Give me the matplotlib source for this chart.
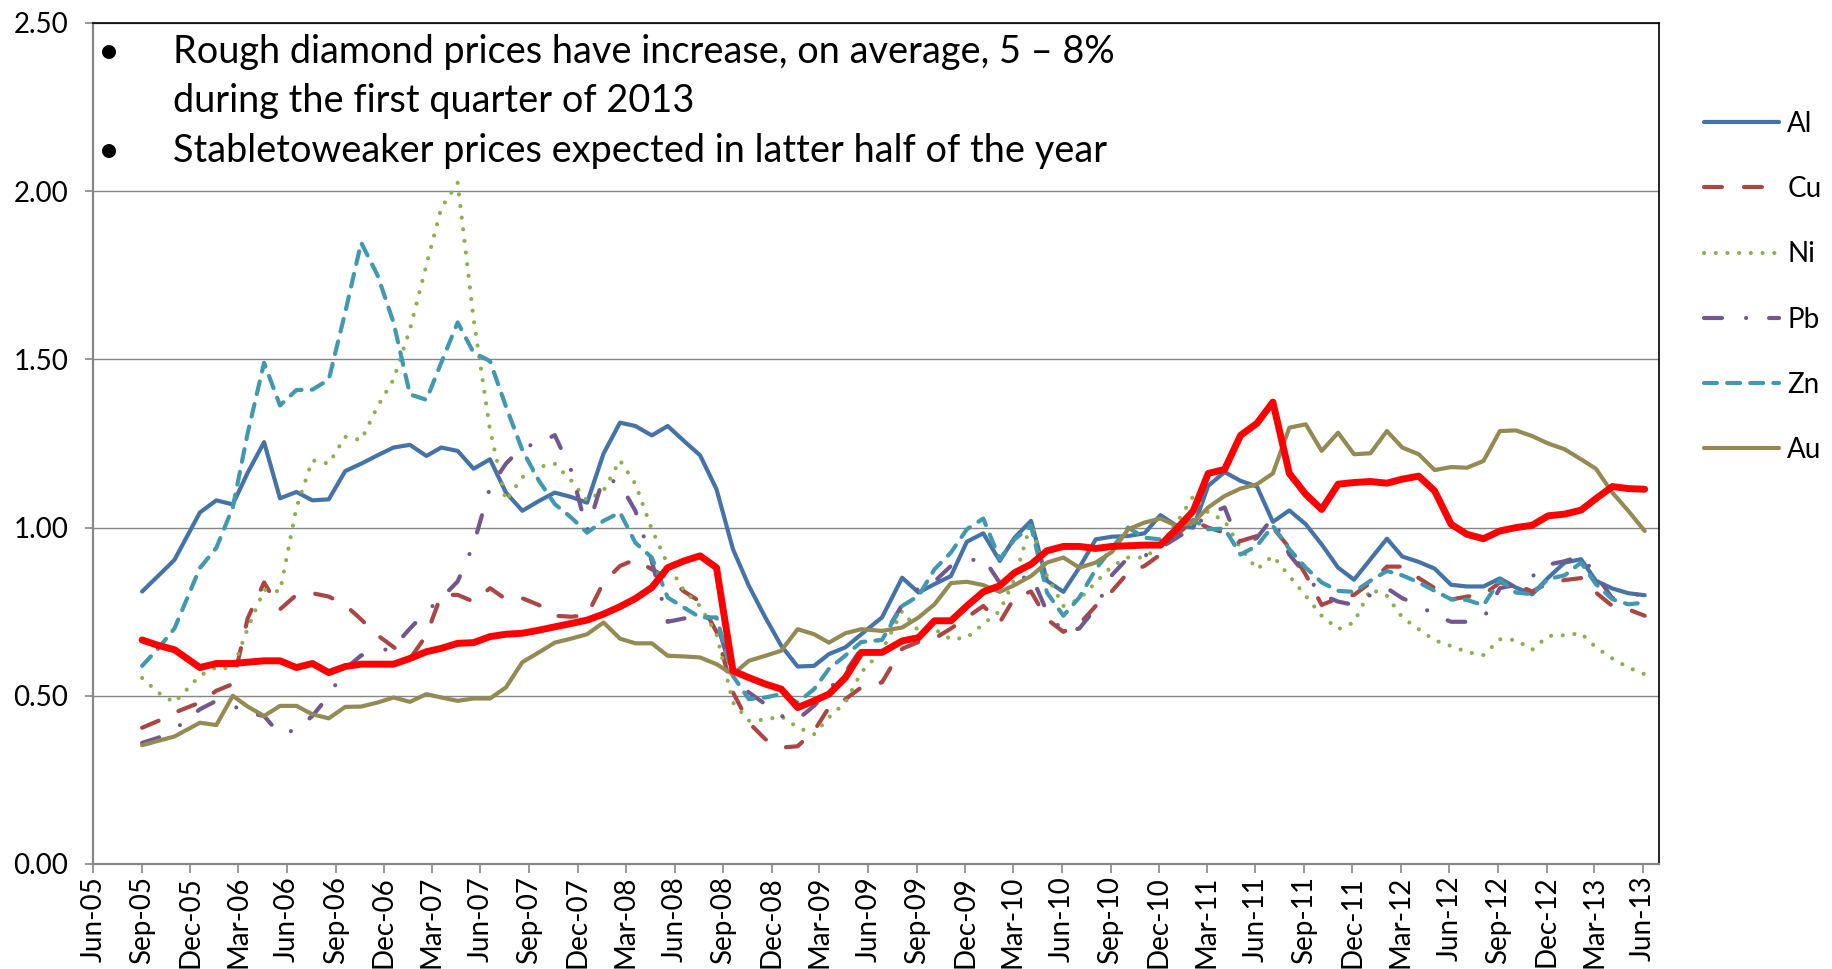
# Metal prices vs rough diamond prices (index, Dec-10 = 1.00)
import pandas as pd
import matplotlib
matplotlib.use('Agg')
import matplotlib.pyplot as plt
import matplotlib.dates as mdates
from matplotlib.ticker import MultipleLocator, FormatStrFormatter

plt.rcParams['font.family'] = ['Lato', 'DejaVu Sans']

# sample dates, Sep-05 .. May-13 (93 points, as they sit on the date axis)
dates = (list(pd.to_datetime(['2005-09-01', '2005-10-01', '2005-11-01']))
         + list(pd.date_range('2005-12-01', periods=42, freq='MS') + pd.Timedelta(days=18))
         + [pd.Timestamp('2009-06-27')]
         + list(pd.date_range('2009-08-01', periods=47, freq='MS') + pd.Timedelta(days=3)))

al = [0.81, 0.856, 0.904, 1.045, 1.081, 1.069, 1.163, 1.254, 1.087, 1.106,
      1.081, 1.084, 1.168, 1.19, 1.215, 1.238, 1.246, 1.213, 1.238, 1.228,
      1.175, 1.203, 1.104, 1.05, 1.079, 1.104, 1.091, 1.074, 1.22, 1.312,
      1.302, 1.274, 1.302, 1.257, 1.215, 1.114, 0.936, 0.827, 0.733, 0.649,
      0.587, 0.589, 0.624, 0.644, 0.683, 0.733, 0.851, 0.807, 0.832, 0.856,
      0.958, 0.983, 0.901, 0.97, 1.02, 0.842, 0.809, 0.881, 0.965, 0.973,
      0.975, 0.983, 1.037, 1.005, 1.0, 1.124, 1.165, 1.139, 1.122, 1.017,
      1.051, 1.01, 0.95, 0.881, 0.845, 0.906, 0.967, 0.914, 0.898, 0.878,
      0.83, 0.825, 0.825, 0.849, 0.822, 0.802, 0.851, 0.896, 0.906, 0.842,
      0.819, 0.805, 0.799]

cu = [0.405, 0.425, 0.45, 0.48, 0.515, 0.535, 0.73, 0.837, 0.757, 0.80,
      0.805, 0.795, 0.77, 0.727, 0.68, 0.645, 0.61, 0.68, 0.80, 0.80,
      0.78, 0.82, 0.787, 0.79, 0.77, 0.738, 0.735, 0.74, 0.837, 0.886,
      0.905, 0.876, 0.85, 0.81, 0.78, 0.69, 0.51, 0.42, 0.371, 0.346,
      0.35, 0.396, 0.465, 0.49, 0.525, 0.54, 0.64, 0.66, 0.67, 0.70,
      0.733, 0.767, 0.718, 0.792, 0.81, 0.728, 0.69, 0.713, 0.767, 0.812,
      0.866, 0.886, 0.92, 0.98, 1.02, 1.0, 0.985, 0.96, 0.975, 1.0,
      0.94, 0.86, 0.77, 0.79, 0.80, 0.836, 0.884, 0.884, 0.85, 0.82,
      0.786, 0.795, 0.80, 0.837, 0.83, 0.81, 0.835, 0.844, 0.85, 0.807,
      0.767, 0.757, 0.738]

ni = [0.553, 0.51, 0.48, 0.56, 0.585, 0.58, 0.70, 0.815, 0.81, 1.06,
      1.20, 1.19, 1.27, 1.26, 1.36, 1.44, 1.59, 1.78, 1.95, 2.025,
      1.62, 1.29, 1.08, 1.15, 1.18, 1.19, 1.14, 1.08, 1.11, 1.20,
      1.13, 0.995, 0.891, 0.812, 0.767, 0.683, 0.48, 0.426, 0.429, 0.439,
      0.406, 0.386, 0.436, 0.48, 0.57, 0.634, 0.752, 0.693, 0.698, 0.668,
      0.673, 0.713, 0.752, 0.847, 1.015, 0.856, 0.767, 0.787, 0.837, 0.886,
      0.911, 0.911, 0.946, 1.015, 1.094, 1.045, 1.02, 0.94, 0.876, 0.916,
      0.856, 0.797, 0.738, 0.698, 0.718, 0.817, 0.797, 0.733, 0.698, 0.665,
      0.648, 0.63, 0.621, 0.668, 0.666, 0.637, 0.678, 0.68, 0.686, 0.644,
      0.611, 0.584, 0.564]

pb = [0.36, 0.375, 0.40, 0.46, 0.485, 0.47, 0.45, 0.44, 0.385, 0.40,
      0.44, 0.50, 0.58, 0.62, 0.63, 0.645, 0.70, 0.75, 0.79, 0.84,
      0.95, 1.12, 1.19, 1.24, 1.25, 1.275, 1.17, 0.99, 1.15, 1.13,
      1.05, 0.90, 0.72, 0.73, 0.74, 0.72, 0.56, 0.51, 0.475, 0.44,
      0.43, 0.47, 0.52, 0.57, 0.64, 0.67, 0.77, 0.82, 0.84, 0.886,
      0.90, 0.91, 0.836, 0.84, 0.86, 0.75, 0.69, 0.70, 0.76, 0.86,
      0.91, 0.916, 0.94, 0.97, 1.0, 1.04, 1.06, 0.94, 0.97, 1.03,
      0.92, 0.86, 0.80, 0.78, 0.77, 0.80, 0.82, 0.79, 0.77, 0.74,
      0.72, 0.72, 0.73, 0.82, 0.83, 0.855, 0.89, 0.90, 0.916, 0.86,
      0.79, 0.795, 0.806]

zn = [0.589, 0.64, 0.70, 0.88, 0.94, 1.06, 1.28, 1.49, 1.363, 1.409,
      1.41, 1.44, 1.64, 1.847, 1.75, 1.61, 1.396, 1.38, 1.49, 1.61,
      1.52, 1.495, 1.36, 1.23, 1.14, 1.07, 1.03, 0.985, 1.02, 1.045,
      0.955, 0.911, 0.792, 0.762, 0.733, 0.733, 0.559, 0.49, 0.495, 0.505,
      0.48, 0.52, 0.58, 0.62, 0.66, 0.666, 0.767, 0.797, 0.876, 0.926,
      0.995, 1.027, 0.906, 0.965, 1.005, 0.807, 0.738, 0.792, 0.876, 0.94,
      1.0, 0.97, 0.965, 0.995, 1.023, 0.995, 0.997, 0.92, 0.946, 1.005,
      0.936, 0.881, 0.837, 0.812, 0.809, 0.842, 0.871, 0.858, 0.837, 0.812,
      0.787, 0.785, 0.769, 0.845, 0.807, 0.802, 0.847, 0.858, 0.896, 0.832,
      0.787, 0.772, 0.777]

au = [0.353, 0.366, 0.379, 0.42, 0.413, 0.50, 0.468, 0.44, 0.47, 0.47,
      0.445, 0.433, 0.467, 0.468, 0.48, 0.495, 0.482, 0.505, 0.495, 0.485,
      0.492, 0.492, 0.525, 0.60, 0.629, 0.658, 0.67, 0.683, 0.718, 0.67,
      0.656, 0.656, 0.619, 0.617, 0.614, 0.594, 0.564, 0.604, 0.619, 0.634,
      0.698, 0.683, 0.658, 0.686, 0.698, 0.693, 0.703, 0.733, 0.772, 0.835,
      0.839, 0.829, 0.809, 0.829, 0.856, 0.896, 0.911, 0.881, 0.896, 0.928,
      0.995, 1.015, 1.027, 1.005, 1.015, 1.06, 1.094, 1.116, 1.129, 1.161,
      1.297, 1.307, 1.228, 1.282, 1.218, 1.221, 1.287, 1.238, 1.218, 1.171,
      1.18, 1.178, 1.198, 1.287, 1.289, 1.272, 1.25, 1.233, 1.203, 1.175,
      1.104, 1.05, 0.99]

# rough diamond price index (thick red, not in legend)
diamond = [0.666, 0.65, 0.637, 0.584, 0.596, 0.596, 0.60, 0.604, 0.604, 0.584,
           0.596, 0.569, 0.587, 0.594, 0.594, 0.594, 0.611, 0.631, 0.641, 0.656,
           0.658, 0.676, 0.683, 0.686, 0.695, 0.705, 0.715, 0.725, 0.743, 0.765,
           0.789, 0.822, 0.881, 0.901, 0.916, 0.881, 0.574, 0.554, 0.535, 0.52,
           0.465, 0.485, 0.505, 0.554, 0.629, 0.629, 0.663, 0.673, 0.723, 0.723,
           0.767, 0.809, 0.827, 0.866, 0.891, 0.931, 0.944, 0.944, 0.938, 0.944,
           0.946, 0.948, 0.948, 0.997, 1.05, 1.161, 1.173, 1.274, 1.31, 1.373,
           1.161, 1.099, 1.054, 1.129, 1.134, 1.137, 1.132, 1.144, 1.153, 1.109,
           1.01, 0.98, 0.967, 0.99, 1.0, 1.007, 1.035, 1.04, 1.052, 1.086,
           1.122, 1.116, 1.114]

notes = ['Rough diamond prices have increase, on average, 5 \u2013 8%',
         'during the first quarter of 2013',
         'Stabletoweaker prices expected in latter half of the year']

GRAY = '#868686'

fig = plt.figure(figsize=(18.32, 9.69), dpi=100)
ax = fig.add_axes([93.3 / 1832, 1 - 864 / 969, (1659 - 93.3) / 1832, (864 - 23) / 969])

# series: label, values, colour, linestyle (dash lengths in line widths)
series = [
    ('Al', al, '#4572A7', '-'),
    ('Cu', cu, '#AA4643', (0, (4.3, 5.3))),
    ('Ni', ni, '#8CB04E', (0, (0.01, 2.8))),
    ('Pb', pb, '#71588F', (0, (4.3, 5.8, 0.01, 5.5))),
    ('Zn', zn, '#4198AF', (0, (3.1, 2.45))),
    ('Au', au, '#948A54', '-'),
]
for name, vals, col, ls in series:
    ax.plot(dates, vals, color=col, lw=3.0, linestyle=ls, dash_capstyle='round',
            solid_capstyle='round', solid_joinstyle='round', label=name, zorder=3)

ax.plot(dates, diamond, color='#FF0000', lw=5.0, solid_joinstyle='round',
        solid_capstyle='round', zorder=4)

# axes
ax.set_ylim(0, 2.5)
ax.set_xlim(pd.Timestamp('2005-06-01'), pd.Timestamp('2013-07-01'))
ax.yaxis.set_major_locator(MultipleLocator(0.5))
ax.yaxis.set_major_formatter(FormatStrFormatter('%.2f'))
ax.xaxis.set_major_locator(mdates.MonthLocator(bymonth=[3, 6, 9, 12]))
ax.xaxis.set_major_formatter(mdates.DateFormatter('%b-%y'))
ax.grid(axis='y', color=GRAY, lw=1.0, zorder=0)
ax.set_axisbelow(True)

ax.tick_params(axis='y', direction='out', length=6, width=1.2, color=GRAY,
               labelsize=20, pad=12)
ax.tick_params(axis='x', direction='out', length=6.5, width=1.2, color=GRAY,
               labelsize=20, pad=2, labelrotation=90)

for s in ['left', 'bottom']:
    ax.spines[s].set_color(GRAY)
    ax.spines[s].set_linewidth(1.6)
for s in ['top', 'right']:
    ax.spines[s].set_color('black')
    ax.spines[s].set_linewidth(1.2)

# legend at the right, outside the plot
ax.legend(loc='upper left', bbox_to_anchor=(1704 / 1832, 1 - 111 / 969),
          bbox_transform=fig.transFigure, frameon=False, fontsize=20,
          handlelength=2.7, handletextpad=0.3, labelspacing=1.41,
          borderpad=0, borderaxespad=0)

# bullet notes in the top left of the plot
baselines = [62.7, 111.7, 161.7]
fig.text(97.5 / 1832, 1 - baselines[0] / 969, '\u2022', fontsize=27.3, va='baseline')
fig.text(97.5 / 1832, 1 - baselines[2] / 969, '\u2022', fontsize=27.3, va='baseline')
for txt, y in zip(notes, baselines):
    fig.text(173 / 1832, 1 - y / 969, txt, fontsize=27.3, va='baseline')

fig.savefig('out.png', dpi=100, facecolor='white')
